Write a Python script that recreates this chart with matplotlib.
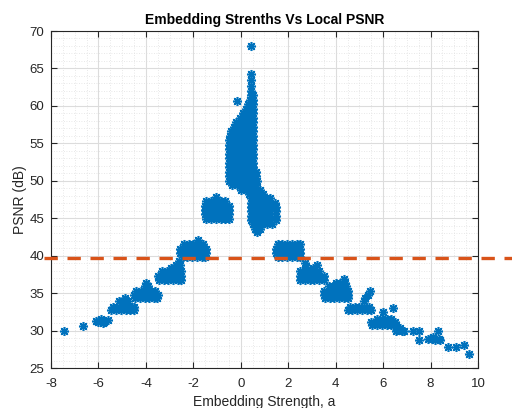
import matplotlib
matplotlib.use("Agg")
import matplotlib.pyplot as plt
from matplotlib.ticker import MultipleLocator

plt.rcParams['font.family'] = ['Liberation Sans', 'DejaVu Sans']
plt.rcParams['axes.unicode_minus'] = False

# ---- data: each cluster is a list of rows (psnr, [strengths]) ----
col_rows = [
    (68.0, [0.42]),
    (64.2, [0.45]), (63.5, [0.45]), (62.6, [0.45]), (62.0, [0.45]),
    (61.4, [0.42, 0.5]), (60.8, [0.38, 0.5]), (60.6, [-0.15]),
    (60.2, [0.3, 0.5]), (59.6, [0.22, 0.38, 0.5]), (59.0, [0.1, 0.3, 0.5]),
    (58.4, [-0.05, 0.15, 0.35, 0.5]), (57.8, [-0.2, 0.0, 0.2, 0.4, 0.5]),
    (57.2, [-0.3, -0.1, 0.1, 0.3, 0.5]), (56.6, [-0.4, -0.2, 0.0, 0.2, 0.4, 0.5]),
    (56.0, [-0.45, -0.25, -0.05, 0.15, 0.35, 0.5]),
    (55.4, [-0.5, -0.3, -0.1, 0.1, 0.3, 0.5]), (54.8, [-0.5, -0.3, -0.1, 0.1, 0.3, 0.5]),
    (54.2, [-0.5, -0.3, -0.1, 0.1, 0.3, 0.5]), (53.6, [-0.5, -0.3, -0.1, 0.1, 0.3, 0.5]),
    (53.0, [-0.5, -0.3, -0.1, 0.1, 0.3, 0.5]), (52.4, [-0.5, -0.3, -0.1, 0.1, 0.3, 0.5]),
    (51.8, [-0.5, -0.3, -0.1, 0.1, 0.3, 0.5]), (51.2, [-0.5, -0.3, -0.1, 0.1, 0.3, 0.5, 0.65]),
    (50.6, [-0.5, -0.3, -0.1, 0.1, 0.3, 0.5, 0.65]), (50.0, [-0.5, -0.3, -0.1, 0.1, 0.3, 0.5, 0.7]),
    (49.4, [-0.35, -0.15, 0.05, 0.25, 0.45, 0.65]), (48.8, [0.0, 0.2, 0.4, 0.6, 0.8]),
]
right_blob_rows = [
    (48.3, [0.35, 0.55, 0.75, 0.95]), (47.7, [0.45, 0.65, 0.85, 1.05, 1.25]),
    (47.1, [0.45, 0.65, 0.85, 1.05, 1.25, 1.45]), (46.5, [0.45, 0.65, 0.85, 1.05, 1.25, 1.5]),
    (45.9, [0.45, 0.65, 0.85, 1.05, 1.25, 1.5]), (45.3, [0.45, 0.65, 0.85, 1.05, 1.25, 1.5]),
    (44.7, [0.45, 0.65, 0.85, 1.05, 1.25, 1.5]), (44.2, [0.5, 0.7, 0.9, 1.1, 1.3]),
    (43.6, [0.6, 0.8]), (43.1, [0.7]),
]
left_blob_rows = [
    (47.9, [-1.05]), (47.3, [-1.45, -1.25, -1.05, -0.85, -0.65]),
    (46.7, [-1.5, -1.3, -1.1, -0.9, -0.7, -0.5]), (46.1, [-1.5, -1.3, -1.1, -0.9, -0.7, -0.5]),
    (45.5, [-1.5, -1.3, -1.1, -0.9, -0.7, -0.5]), (44.9, [-1.45, -1.25, -1.05, -0.85, -0.65, -0.5]),
]
neg_rows = [
    # around a = -2
    (42.1, [-1.8]), (41.5, [-2.4, -2.2, -2.0, -1.8, -1.6]),
    (40.9, [-2.55, -2.35, -2.15, -1.95, -1.75, -1.55, -1.45]),
    (40.3, [-2.55, -2.35, -2.15, -1.95, -1.75, -1.55, -1.45]),
    (39.8, [-2.45, -2.25, -2.05, -1.85, -1.65, -1.5]),
    (39.3, [-2.6]), (38.8, [-2.75, -2.55]), (38.3, [-2.95, -2.8]),
    # around a = -3
    (37.9, [-3.3, -3.1, -2.9, -2.7, -2.5]), (37.3, [-3.5, -3.3, -3.1, -2.9, -2.7, -2.5]),
    (36.8, [-3.45, -3.25, -3.05, -2.85, -2.65, -2.5]),
    # around a = -4
    (36.4, [-4.0]), (35.9, [-4.05, -3.9]), (35.3, [-4.4, -4.2, -4.0, -3.8, -3.6]),
    (34.8, [-4.5, -4.3, -4.1, -3.9, -3.7, -3.5]), (34.3, [-4.45, -4.25, -4.05, -3.85, -3.65, -3.55]),
    # around a = -5
    (34.4, [-4.9]), (33.9, [-5.15, -4.95, -4.75]), (33.2, [-5.4, -5.2, -5.0, -4.8, -4.6, -4.5]),
    (32.8, [-5.45, -5.25, -5.05, -4.85, -4.65, -4.5]),
    # around a = -6 and below
    (31.5, [-5.9]), (31.4, [-5.6]), (31.3, [-6.1]), (31.2, [-5.75]), (31.1, [-6.0]), (31.0, [-5.8]),
    (30.6, [-6.66]), (29.95, [-7.45]),
]
pos_rows = [
    # around a = 2
    (41.5, [1.55, 1.75, 1.95, 2.15, 2.35, 2.5]), (40.9, [1.5, 1.7, 1.9, 2.1, 2.3, 2.5]),
    (40.3, [1.5, 1.7, 1.9, 2.1, 2.3, 2.5]), (39.8, [1.55, 1.75, 1.95, 2.15, 2.35, 2.5]),
    (39.0, [2.7]), (38.5, [2.75]), (38.4, [3.05]), (38.8, [3.2]),
    # around a = 3
    (37.9, [2.5, 2.7, 2.9, 3.1, 3.3]), (37.3, [2.5, 2.7, 2.9, 3.1, 3.3, 3.5]),
    (36.8, [2.5, 2.7, 2.9, 3.1, 3.3, 3.5]),
    # around a = 4
    (36.9, [4.35]), (36.4, [4.0, 4.2, 4.4]), (35.9, [3.7, 3.9, 4.1, 4.3, 4.45]),
    (35.3, [3.5, 3.7, 3.9, 4.1, 4.3, 4.5]), (34.8, [3.5, 3.7, 3.9, 4.1, 4.3, 4.5]),
    (34.3, [3.55, 3.75, 3.95, 4.15, 4.35, 4.5]),
    # around a = 5
    (35.3, [5.45]), (34.8, [5.35]), (34.3, [5.25]), (33.9, [5.2]),
    (33.2, [4.6, 4.8, 5.0, 5.2, 5.4]), (32.7, [4.5, 4.7, 4.9, 5.1, 5.3, 5.5]),
    # around a = 6
    (33.0, [6.43]), (32.5, [6.0]), (31.6, [5.75, 5.95, 6.15, 6.35]),
    (31.1, [5.5, 5.7, 5.9, 6.1, 6.3, 6.5]), (30.8, [5.55, 5.75, 5.95, 6.15, 6.35, 6.55]),
    # around a = 7 .. 10
    (30.5, [6.55]), (30.3, [6.7]), (30.1, [6.6]), (29.9, [6.55, 6.8]),
    (30.0, [6.88, 7.25, 7.53]), (28.75, [7.53]),
    (28.9, [7.9, 8.05, 8.35]), (28.8, [8.2]), (29.1, [8.1]), (28.7, [8.4]), (30.0, [8.3]),
    (27.8, [8.72]), (27.75, [9.07]), (28.1, [9.43]), (26.9, [9.64]),
]
threshold = 39.73

strength = []
psnr = []
for rows in (col_rows, right_blob_rows, left_blob_rows, neg_rows, pos_rows):
    for y, xs in rows:
        for x in xs:
            strength.append(x)
            psnr.append(y)

fig = plt.figure(figsize=(5.12, 4.08), dpi=100)
ax = fig.add_axes([0.0996, 0.098, 0.834, 0.826])

ax.plot(strength, psnr, linestyle='none', marker=(8, 2, 0), markersize=6.5,
        markeredgewidth=1.15, color='#0072BD')
ax.plot([-8.3, 12.0], [threshold, threshold], color='#D95319', linewidth=2.4,
        dashes=(4.0, 2.9), clip_on=False, zorder=5)

ax.set_xlim(-8, 10)
ax.set_ylim(25, 70)
ax.xaxis.set_major_locator(MultipleLocator(2))
ax.xaxis.set_minor_locator(MultipleLocator(0.5))
ax.yaxis.set_major_locator(MultipleLocator(5))
ax.yaxis.set_minor_locator(MultipleLocator(1))
ax.grid(which='major', color='#dcdcdc', linewidth=0.8)
ax.grid(which='minor', color='#e0e0e0', linewidth=0.6, linestyle=(0, (1, 2)))
ax.set_axisbelow(True)

ax.tick_params(which='major', direction='in', top=True, right=True, length=4,
               width=0.8, color='#262626', labelcolor='#262626', labelsize=9.5)
ax.tick_params(axis='x', pad=7)
ax.tick_params(axis='y', pad=5)
ax.tick_params(which='minor', length=0)
for s in ax.spines.values():
    s.set_color('#262626')
    s.set_linewidth(0.8)

ax.set_title('Embedding Strenths Vs Local PSNR', fontsize=10, fontweight='bold',
             color='#000000', pad=5)
ax.set_xlabel('Embedding Strength, a', fontsize=10, color='#262626', labelpad=3.5)
ax.set_ylabel('PSNR (dB)', fontsize=10, color='#262626', labelpad=2)

fig.savefig('out.png', dpi=100)
